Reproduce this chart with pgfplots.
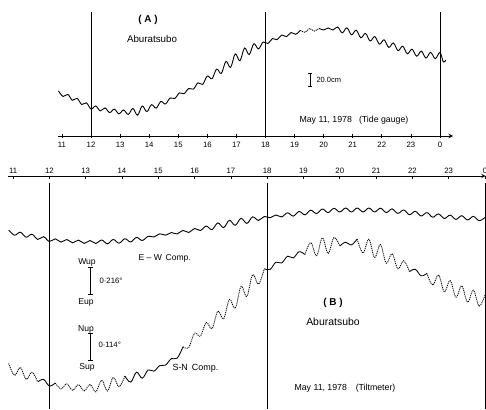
\documentclass[border=0pt]{standalone}
\usepackage{pgfplots}
\pgfplotsset{compat=1.18}
\usepackage{fontspec}
\setmainfont{Liberation Sans}
\pgfplotsset{
  panel/.style={
    scale only axis, hide y axis, clip=false,
    axis line style={-, line width=1pt},
    xtick={11,12,13,14,15,16,17,18,19,20,21,22,23,24},
    xticklabels={11,12,13,14,15,16,17,18,19,20,21,22,23,0},
    major tick length=3.5pt,
    tick style={black, line width=0.7pt},
    /pgf/number format/assume math mode=true,
    ticklabel style={font=\fontsize{7.8}{8}\selectfont},
    ymin=0,
  },
  curve/.style={black, line width=0.9pt, smooth, tension=0.6, no marks},
  sn/.style={black, line width=0.85pt, smooth, tension=0.6, no marks},
  sndot/.style={black, line width=0.85pt, smooth, tension=0.6, no marks, dash pattern=on 1.1pt off 0.9pt},
  vline/.style={black, line width=0.7pt, no marks},
}
\begin{document}
\begin{tikzpicture}[x=1bp,y=1bp]
\useasboundingbox (0,0) rectangle (486,409);
% ---------------- Panel A : tide gauge ----------------
\begin{axis}[panel, at={(57.6bp,273bp)}, anchor=south west,
  width=395.4bp, height=124bp, xmin=10.85, xmax=24.45, ymax=124,
  axis x line=bottom, xtick align=center,
  xticklabel style={yshift=-0.5pt}]
\addplot[vline] coordinates {(12,0) (12,124)};
\addplot[vline] coordinates {(18,0) (18,124)};
\addplot[vline] coordinates {(24,0) (24,124)};
\addplot[curve] coordinates {
(10.88,45) (11.04,39.5) (11.20,41.6) (11.36,35.7) (11.52,37.7) (11.68,31.5) (11.84,33.2)
(12.00,27) (12.16,30) (12.32,25.1) (12.48,28.1) (12.64,23.4) (12.80,26.8) (12.96,22.2)
(13.12,26) (13.28,21.5) (13.44,27.5) (13.60,20.8) (13.76,30) (13.92,24.4) (14.08,31.3)
(14.24,27.9) (14.40,34.5) (14.56,32) (14.72,38) (14.88,37.5) (15.04,43.1) (15.20,42.3)
(15.36,47.5) (15.52,46.9) (15.68,53.2) (15.84,51.6) (16.00,60) (16.16,57.2) (16.32,66.9)
(16.48,62.6) (16.64,74.6) (16.80,68.6) (16.96,82.1) (17.12,75.2) (17.28,88) (17.44,81.4)
(17.60,92.2) (17.76,87.1) (17.92,94) (18.08,92.5) (18.24,97.4) (18.40,96.3) (18.56,101)
(18.72,99.3) (18.88,103.5) (19.04,101.7) (19.20,105.7)};
\addplot[sndot] coordinates {
(19.20,105.7) (19.36,103.7) (19.52,107.5) (19.68,104.9) (19.84,107.7)};
\addplot[curve] coordinates {
(19.84,107.7) (20.00,106) (20.16,108) (20.32,106) (20.48,109) (20.64,103.2)
(20.80,108.2) (20.96,101.2) (21.12,105.8) (21.28,98.2) (21.44,102.6) (21.60,95) (21.76,99.4)
(21.92,91.8) (22.08,96.2) (22.24,88.6) (22.40,93) (22.56,85.4) (22.72,89.8) (22.88,82.2)
(23.04,86.8) (23.20,79.8) (23.36,84.8) (23.52,78) (23.68,83.6) (23.84,77.3) (24.00,83.5)
(24.12,74) (24.2,76)};
% scale bar 20.0 cm
\draw[line width=0.8pt] (axis cs:19.53,50) -- (axis cs:19.53,63);
\draw[line width=0.8pt] (axis cs:19.46,50) -- (axis cs:19.60,50);
\draw[line width=0.8pt] (axis cs:19.46,63) -- (axis cs:19.60,63);
\end{axis}
\node[font=\fontsize{10}{11}\selectfont\bfseries] at (148,389) {( A )};
\node[font=\fontsize{9.8}{11}\selectfont] at (152,370) {Aburatsubo};
\node[font=\fontsize{7.5}{8}\selectfont, anchor=west] at (313,329.5) {20.0cm};
\node[font=\fontsize{8.8}{10}\selectfont, anchor=west] at (296,289) {May 11, 1978\hspace{0.8em}(Tide gauge)};
% ---------------- Panel B : tiltmeter ----------------
\begin{axis}[panel, at={(8bp,0bp)}, anchor=south west,
  width=477.7bp, height=233bp, xmin=10.86, xmax=24.02, ymax=233,
  axis x line=top, xtick align=inside,
  xticklabel style={yshift=-1pt}]
\addplot[vline] coordinates {(12,0) (12,226)};
\addplot[vline] coordinates {(18,0) (18,226)};
\addplot[vline] coordinates {(24,0) (24,226)};
% E-W component
\addplot[curve] coordinates {
(10.88,178.9) (11.04,173.8) (11.20,176.8) (11.36,171.8) (11.52,174.8) (11.68,169.6) (11.84,172.3)
(12.00,167.5) (12.16,170.2) (12.32,166.9) (12.48,169.5) (12.64,166.2) (12.80,168.9) (12.96,165.6)
(13.12,168.5) (13.28,165.5) (13.44,169) (13.60,165.2) (13.76,169.5) (13.92,165.8) (14.08,170.3)
(14.24,167) (14.40,171.6) (14.56,168.5) (14.72,172.8) (14.88,172) (15.04,175.2) (15.20,173.8)
(15.36,176.4) (15.52,175.1) (15.68,178.6) (15.84,176.5) (16.00,180.5) (16.16,178.5) (16.32,182.9)
(16.48,179.4) (16.64,186.1) (16.80,181.4) (16.96,188.7) (17.12,183.7) (17.28,190.7) (17.44,185.6)
(17.60,192.1) (17.76,188.6) (17.92,192.5) (18.08,191.3) (18.24,194) (18.40,192.1) (18.56,196.2)
(18.72,192.9) (18.88,197.5) (19.04,194.2) (19.20,198.8) (19.36,195.4) (19.52,200) (19.68,196.4)
(19.84,200.7) (20.00,197) (20.16,201) (20.32,197) (20.48,201) (20.64,197) (20.80,201)
(20.96,197) (21.12,200.8) (21.28,196.4) (21.44,200.1) (21.60,195.6) (21.76,199) (21.92,194.3)
(22.08,197.7) (22.24,193) (22.40,196.4) (22.56,191.8) (22.72,195.1) (22.88,190.5) (23.04,193.9)
(23.20,189.6) (23.36,193.3) (23.52,189) (23.68,192.6) (23.84,188.3) (24.00,191.5)};
% S-N component (solid where the trace is slow, dotted where it is fast)
\addplot[sndot] coordinates {
(10.88,45.6) (11.04,33.5) (11.20,41.6) (11.36,29.7) (11.52,36.7) (11.68,27.1)};
\addplot[sn] coordinates {
(11.68,27.1) (11.84,29.6) (12.00,23) (12.16,26)};
\addplot[sndot] coordinates {
(12.16,26) (12.32,20.1) (12.48,25.1) (12.64,18.7) (12.80,24.4) (12.96,18.1)
(13.12,24.5) (13.28,17.1) (13.44,28.8) (13.60,18) (13.76,31.6) (13.92,22.2) (14.08,33)};
\addplot[sn] coordinates {
(14.08,33) (14.24,26.9) (14.40,36.8) (14.56,30.8) (14.72,39.1) (14.88,37.8) (15.04,43.4) (15.20,43.9)
(15.36,50.4) (15.52,50.8) (15.68,62.2)};
\addplot[sndot] coordinates {
(15.68,62.2) (15.84,61.6) (16.00,76) (16.16,72.8) (16.32,86.6)
(16.48,80.4) (16.64,97.8) (16.80,90.2) (16.96,109.6) (17.12,100.6) (17.28,122.6) (17.44,112.7)
(17.60,134.4) (17.76,124.8) (17.92,140.3)};
\addplot[sn] coordinates {
(17.92,140.3) (18.08,139.6) (18.24,146.8) (18.40,146) (18.56,152.8)
(18.72,151.1) (18.88,157.3) (19.04,154.5)};
\addplot[sndot] coordinates {
(19.04,154.5) (19.20,166.4) (19.36,153.3) (19.52,171.1) (19.68,155.7) (19.84,171.4) (20.00,163)};
\addplot[sn] coordinates {
(20.00,163) (20.16,166.8) (20.32,164.1) (20.48,170)};
\addplot[sndot] coordinates {
(20.48,170) (20.64,156) (20.80,169.8)
(20.96,151.6) (21.12,164.4) (21.28,145.8) (21.44,155.3) (21.60,140.2) (21.76,148.3) (21.92,137.4)};
\addplot[sn] coordinates {
(21.92,137.4) (22.08,139.7) (22.24,133.2) (22.40,135.6)};
\addplot[sndot] coordinates {
(22.40,135.6) (22.56,123.9) (22.72,134) (22.88,117.2) (23.04,128.4)
(23.20,111.8) (23.36,123.2) (23.52,106.8) (23.68,118.8) (23.84,102.9) (24.00,114)};
% scale bars
\draw[line width=0.8pt] (axis cs:13.13,115) -- (axis cs:13.13,142);
\draw[line width=0.8pt] (axis cs:13.07,115) -- (axis cs:13.19,115);
\draw[line width=0.8pt] (axis cs:13.07,142) -- (axis cs:13.19,142);
\draw[line width=0.8pt] (axis cs:13.13,49) -- (axis cs:13.13,76);
\draw[line width=0.8pt] (axis cs:13.07,49) -- (axis cs:13.19,49);
\draw[line width=0.8pt] (axis cs:13.07,76) -- (axis cs:13.19,76);
\end{axis}
\node[font=\fontsize{8.6}{10}\selectfont, anchor=west] at (135,151) {E -- W\, Comp.};
\node[font=\fontsize{8.6}{10}\selectfont] at (87,147) {Wup};
\node[font=\fontsize{7.8}{9}\selectfont, anchor=west] at (96,128) {0·216°};
\node[font=\fontsize{8.6}{10}\selectfont] at (86,107) {Eup};
\node[font=\fontsize{8.6}{10}\selectfont] at (86,80) {Nup};
\node[font=\fontsize{7.8}{9}\selectfont, anchor=west] at (95,64) {0·114°};
\node[font=\fontsize{8.6}{10}\selectfont] at (87,42) {Sup};
\node[font=\fontsize{9}{10}\selectfont, anchor=west] at (169,41) {S-N\, Comp.};
\node[font=\fontsize{10}{11}\selectfont\bfseries] at (333,106) {( B )};
\node[font=\fontsize{10.5}{12}\selectfont] at (333,87) {Aburatsubo};
\node[font=\fontsize{8.8}{10}\selectfont, anchor=west] at (291,21) {May 11, 1978\hspace{1em}(Tiltmeter)};
\end{tikzpicture}
\end{document}
